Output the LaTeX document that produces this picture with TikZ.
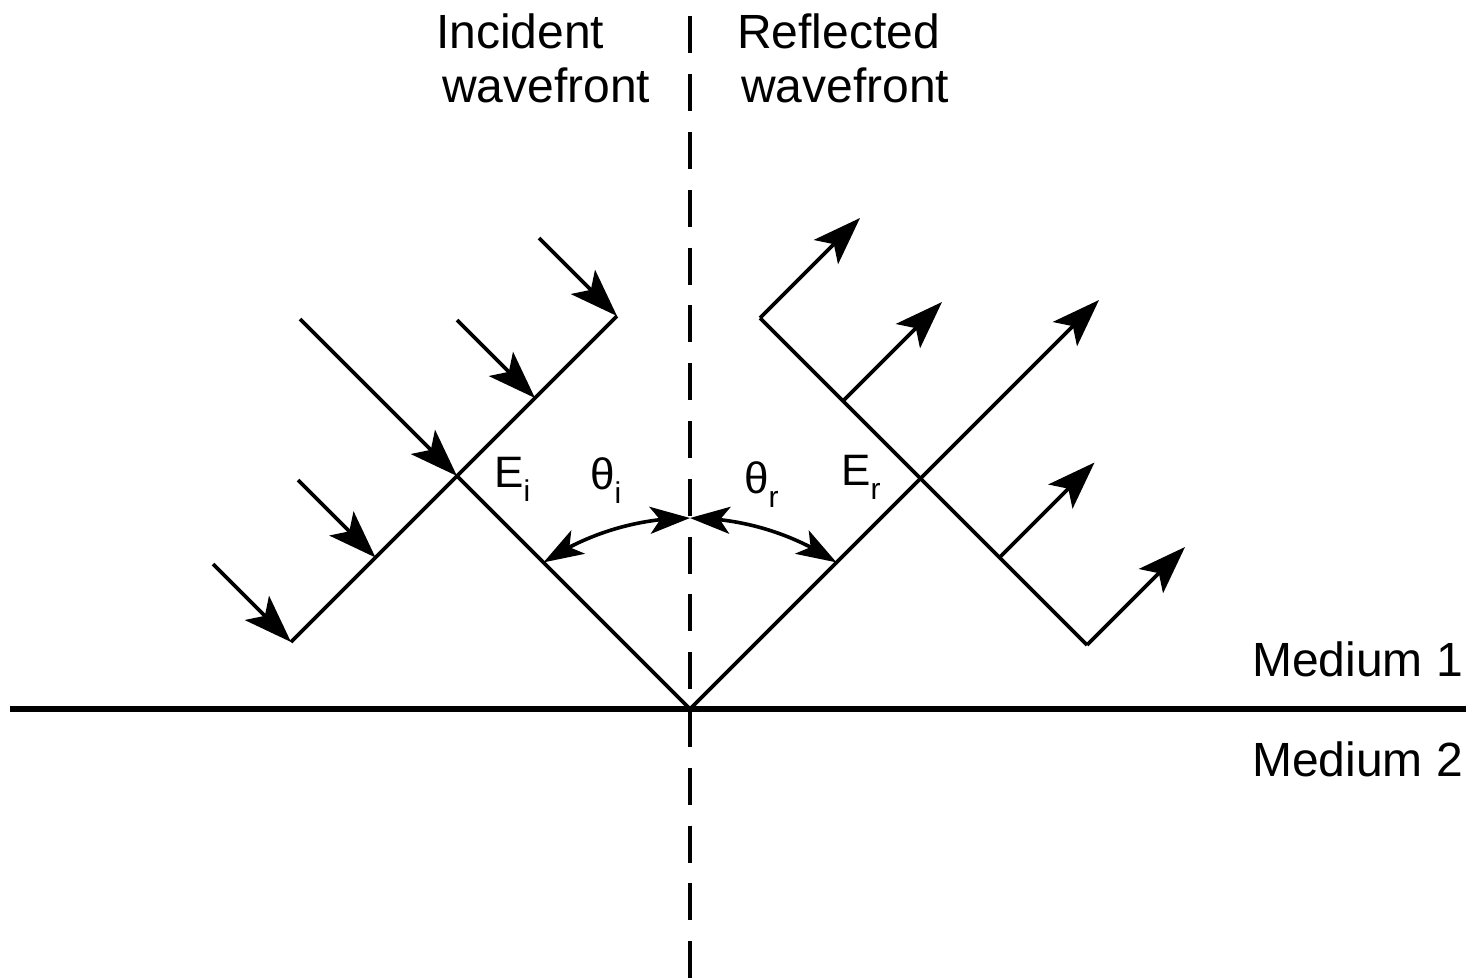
\documentclass[tikz,border=0pt]{standalone}
\usepackage{fontspec}
\setmainfont{Liberation Sans}
\usetikzlibrary{arrows.meta,bending}
\newcommand\lowsub[1]{\raisebox{-14pt}{\fontsize{30}{30}\selectfont #1}}
\begin{document}
\begin{tikzpicture}[x=1pt,y=-1pt,
  ray/.style={line width=3.8pt},
  rayarrow/.style={ray,-{Stealth[length=48pt,width=34pt,inset=11pt]}},
  anglearc/.style={line width=3.6pt,{Stealth[length=40pt,width=27pt,inset=10pt]}-{Stealth[length=40pt,width=27pt,inset=10pt]}},
  lbl/.style={anchor=base west,inner sep=0pt,font=\fontsize{48}{52}\selectfont},
  sym/.style={anchor=base west,inner sep=0pt,font=\fontsize{44}{46}\selectfont}]
\useasboundingbox (0,0) rectangle (1473,978);

% key points
\coordinate (O) at (690,709);
\coordinate (Ltop) at (10,709);
\coordinate (Rend) at (1466,709);
\coordinate (Ntop) at (690,16.4);
\coordinate (Nbot) at (690,978);

% incident wavefront
\coordinate (Ei) at (457,476);
\coordinate (WiLL) at (291,642);
\coordinate (WiUR) at (617,316);
\coordinate (Wi2) at (375.5,557.5);
\coordinate (Wi3) at (535,398);
\coordinate (A1s) at (213,564);
\coordinate (A2s) at (298,480);
\coordinate (A3s) at (457,320);
\coordinate (A4s) at (539,238);
\coordinate (Ais) at (300,319);

% reflected wavefront
\coordinate (Er) at (920.5,478.5);
\coordinate (WrUL) at (760,318);
\coordinate (WrLR) at (1087,645);
\coordinate (Wr2) at (843,401);
\coordinate (Wr4) at (999.5,557.5);
\coordinate (B1e) at (860,218);
\coordinate (B2e) at (942,302);
\coordinate (Bre) at (1099,300);
\coordinate (B4e) at (1094.5,462.5);
\coordinate (B5e) at (1185,547);

% arc
\coordinate (Atop) at (690,518);

% boundary and normal
\draw[line width=6pt] (Ltop) -- (Rend);
\draw[line width=4pt, dash pattern=on 37pt off 20.8pt] (Ntop) -- (Nbot);

% incident side
\draw[ray] (WiLL) -- (WiUR);
\draw[ray] (Ei) -- (O);
\draw[rayarrow] (Ais) -- (Ei);
\draw[rayarrow] (A1s) -- (WiLL);
\draw[rayarrow] (A2s) -- (Wi2);
\draw[rayarrow] (A3s) -- (Wi3);
\draw[rayarrow] (A4s) -- (WiUR);

% reflected side
\draw[ray] (WrUL) -- (WrLR);
\draw[rayarrow] (O) -- (Bre);
\draw[rayarrow] (WrUL) -- (B1e);
\draw[rayarrow] (Wr2) -- (B2e);
\draw[rayarrow] (Wr4) -- (B4e);
\draw[rayarrow] (WrLR) -- (B5e);

% angle arcs
\draw[anglearc] (Atop) arc[start angle=-90, end angle=-123.7, radius=264];
\draw[anglearc] (Atop) arc[start angle=-90, end angle=-56.3, radius=264];

% labels
\node[lbl] (inc1) at (436,48) {Incident};
\node[lbl] (inc2) at (442,102) {wavefront};
\node[lbl] (ref1) at (737,48) {Reflected};
\node[lbl] (ref2) at (741,102) {wavefront};
\node[lbl] (med1) at (1252,676) {Medium 1};
\node[lbl] (med2) at (1252,776) {Medium 2};

\node[sym] (lEi) at (494,487) {E\lowsub{i}};
\node[sym] (lthi) at (590,489) {θ\lowsub{i}};
\node[sym] (lthr) at (744,493) {θ\lowsub{r}};
\node[sym] (lEr) at (841,485) {E\lowsub{r}};
\end{tikzpicture}
\end{document}
